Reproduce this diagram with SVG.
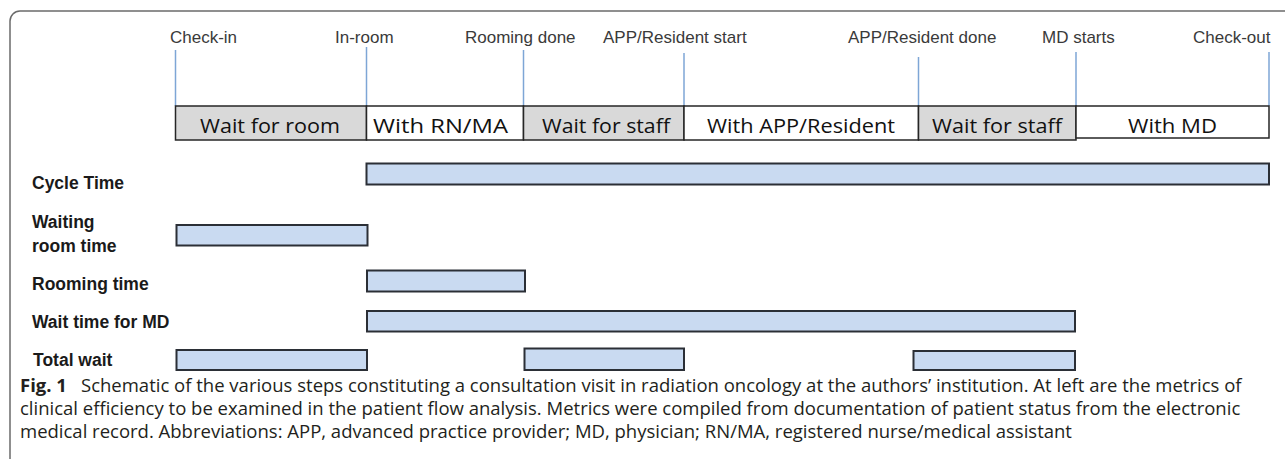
<svg xmlns="http://www.w3.org/2000/svg" width="1285" height="459" viewBox="0 0 1285 459">
  <style>
    .frame { fill: none; stroke: #6b6b6b; stroke-width: 1.5; }
    .tick { stroke: #7ea6d6; stroke-width: 1.5; }
    .event { font-family: "Liberation Sans", Arial, sans-serif; font-size: 17px; fill: #3a3a3a; }
    .seg { stroke: #262626; stroke-width: 1.5; }
    .seg-wait { fill: #d9d9d9; }
    .seg-work { fill: #ffffff; }
    .seg-text { font-family: "Open Sans", "Liberation Sans", sans-serif; font-size: 20px; fill: #111111; }
    .metric { font-family: "Liberation Sans", Arial, sans-serif; font-size: 17.5px; font-weight: bold; fill: #1a1a1a; }
    .bar { fill: #c9daf1; stroke: #2b2f36; stroke-width: 2; }
    .cap { font-family: "Open Sans", "Liberation Sans", sans-serif; font-size: 18.5px; fill: #231f20; }
    .cap-b { font-weight: bold; }
  </style>

  <!-- panel border, open to the right and bottom -->
  <path class="frame" d="M10,470 V21 A10,10 0 0 1 20,11 H1295"/>

  <!-- event markers along the visit timeline -->
  <g id="connectors">
    <line class="tick" x1="175.5" y1="50" x2="175.5" y2="106"/>
    <line class="tick" x1="366.5" y1="47" x2="366.5" y2="106"/>
    <line class="tick" x1="523.5" y1="50" x2="523.5" y2="106"/>
    <line class="tick" x1="684" y1="53" x2="684" y2="106"/>
    <line class="tick" x1="918.5" y1="57" x2="918.5" y2="106"/>
    <line class="tick" x1="1076" y1="52" x2="1076" y2="106"/>
    <line class="tick" x1="1269" y1="52" x2="1269" y2="106"/>
  </g>

  <g id="events">
    <text class="event" x="170" y="43">Check-in</text>
    <text class="event" x="335" y="43">In-room</text>
    <text class="event" x="465" y="43">Rooming done</text>
    <text class="event" x="603" y="43">APP/Resident start</text>
    <text class="event" x="848" y="43">APP/Resident done</text>
    <text class="event" x="1042" y="43">MD starts</text>
    <text class="event" x="1193" y="43">Check-out</text>
  </g>

  <!-- visit phases -->
  <g id="phase-wait-room">
    <rect class="seg seg-wait" x="175.5" y="106" width="191" height="34"/>
    <text class="seg-text" x="200" y="133" textLength="140" lengthAdjust="spacingAndGlyphs">Wait for room</text>
  </g>
  <g id="phase-rn-ma">
    <rect class="seg seg-work" x="366.5" y="106" width="157" height="34"/>
    <text class="seg-text" x="373" y="133" textLength="135" lengthAdjust="spacingAndGlyphs">With RN/MA</text>
  </g>
  <g id="phase-wait-staff-1">
    <rect class="seg seg-wait" x="523.5" y="106" width="160.5" height="34"/>
    <text class="seg-text" x="542" y="133" textLength="128" lengthAdjust="spacingAndGlyphs">Wait for staff</text>
  </g>
  <g id="phase-app">
    <rect class="seg seg-work" x="684" y="106" width="234.5" height="34"/>
    <text class="seg-text" x="707" y="133" textLength="188" lengthAdjust="spacingAndGlyphs">With APP/Resident</text>
  </g>
  <g id="phase-wait-staff-2">
    <rect class="seg seg-wait" x="918.5" y="106" width="157.5" height="34"/>
    <text class="seg-text" x="932" y="133" textLength="130" lengthAdjust="spacingAndGlyphs">Wait for staff</text>
  </g>
  <g id="phase-md">
    <rect class="seg seg-work" x="1076" y="106" width="193" height="32"/>
    <text class="seg-text" x="1128" y="133" textLength="89" lengthAdjust="spacingAndGlyphs">With MD</text>
  </g>

  <!-- efficiency metrics -->
  <g id="metric-cycle">
    <text class="metric" x="32" y="189">Cycle Time</text>
    <rect class="bar" x="366.5" y="163.5" width="902.5" height="21"/>
  </g>
  <g id="metric-waiting-room">
    <text class="metric" x="32" y="228">Waiting</text>
    <text class="metric" x="32" y="252">room time</text>
    <rect class="bar" x="176.5" y="225" width="191" height="20.5"/>
  </g>
  <g id="metric-rooming">
    <text class="metric" x="32" y="290">Rooming time</text>
    <rect class="bar" x="367" y="270.5" width="158" height="21"/>
  </g>
  <g id="metric-wait-md">
    <text class="metric" x="32" y="328">Wait time for MD</text>
    <rect class="bar" x="367" y="311" width="708" height="20.5"/>
  </g>
  <g id="metric-total-wait">
    <text class="metric" x="33" y="366">Total wait</text>
    <rect class="bar" x="176.5" y="350" width="190.5" height="20"/>
    <rect class="bar" x="524.5" y="348.5" width="159.5" height="21.5"/>
    <rect class="bar" x="913.5" y="351" width="161.5" height="19"/>
  </g>

  <!-- caption -->
  <g id="caption">
    <text class="cap cap-b" x="20" y="392">Fig. 1</text>
    <text class="cap" x="81" y="392">Schematic of the various steps constituting a consultation visit in radiation oncology at the authors’ institution. At left are the metrics of</text>
    <text class="cap" x="20" y="415">clinical efficiency to be examined in the patient flow analysis. Metrics were compiled from documentation of patient status from the electronic</text>
    <text class="cap" x="20" y="438">medical record. Abbreviations: APP, advanced practice provider; MD, physician; RN/MA, registered nurse/medical assistant</text>
  </g>
</svg>
